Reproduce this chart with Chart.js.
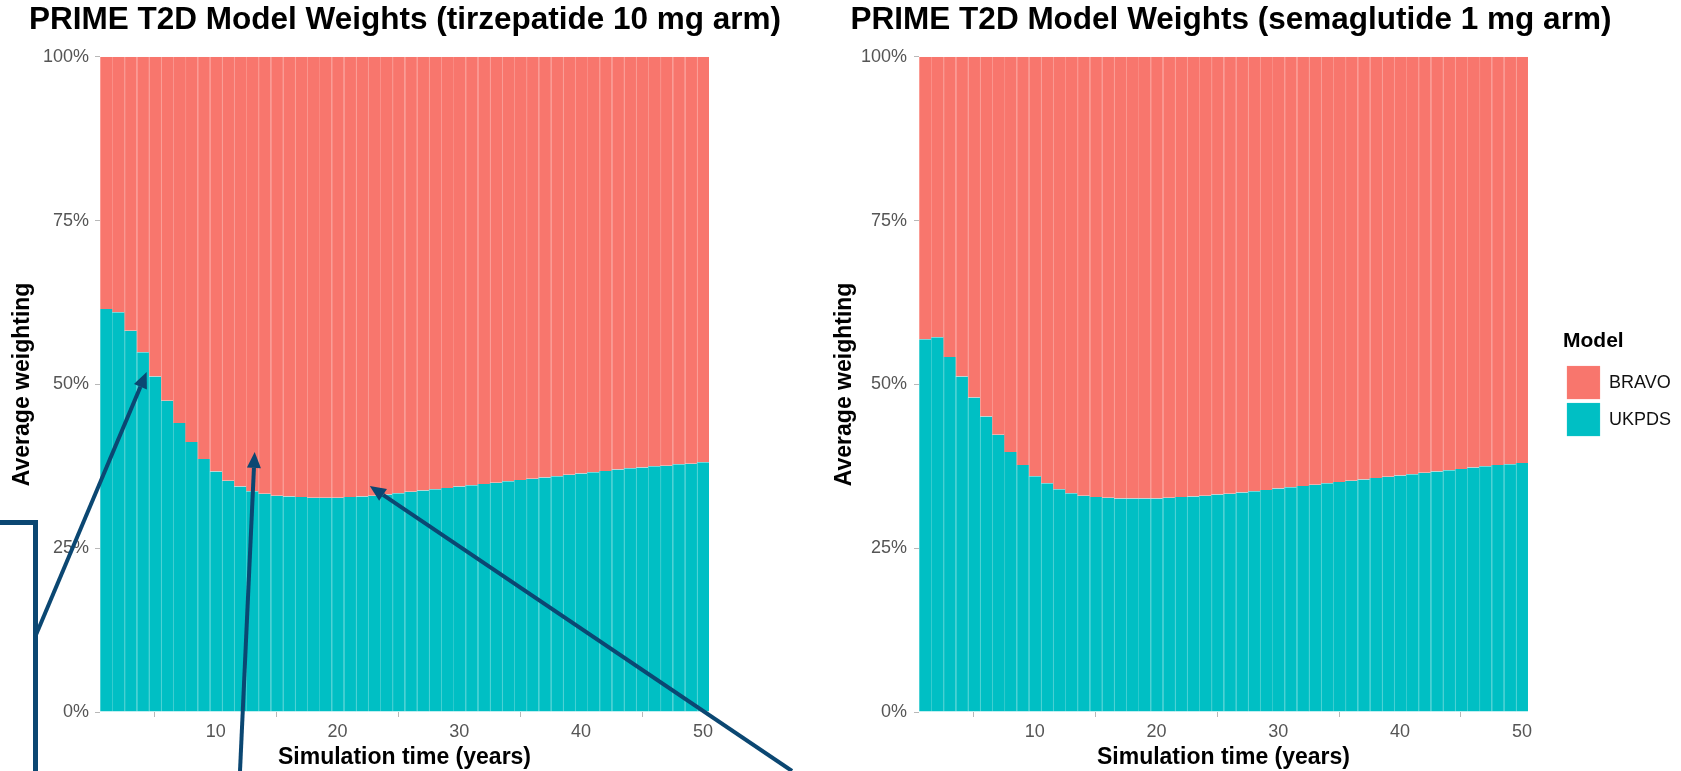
<!DOCTYPE html>
<html>
<head>
<meta charset="utf-8">
<script src="https://cdn.jsdelivr.net/npm/chart.js@4.4.1/dist/chart.umd.min.js"></script>
<style>
  html, body { margin: 0; padding: 0; background: #fff; }
  #wrap { position: relative; width: 1681px; height: 771px; overflow: hidden; }
  canvas { position: absolute; top: 0; }
  #left { left: 0; }
  #right { left: 781px; }
</style>
</head>
<body>
<div id="wrap">
  <canvas id="left" width="810" height="771"></canvas>
  <canvas id="right" width="900" height="771"></canvas>
</div>
<script>
// simulation years (one bar each)
const years = [1, 2, 3, 4, 5, 6, 7, 8, 9, 10, 11, 12, 13, 14, 15, 16, 17, 18, 19, 20,
  21, 22, 23, 24, 25, 26, 27, 28, 29, 30, 31, 32, 33, 34, 35, 36, 37, 38, 39, 40,
  41, 42, 43, 44, 45, 46, 47, 48, 49, 50];
const xTicks = [10, 20, 30, 40, 50];
const yTicks = [0, 25, 50, 75, 100];

// tirzepatide 10 mg arm, % weighting
const tirzUkpds = [61.5, 61.0, 58.2, 54.9, 51.2, 47.5, 44.1, 41.2, 38.6, 36.7,
  35.3, 34.4, 33.7, 33.3, 33.0, 32.9, 32.8, 32.7, 32.7, 32.7,
  32.8, 32.9, 33.0, 33.2, 33.4, 33.6, 33.8, 34.0, 34.2, 34.4,
  34.6, 34.8, 35.0, 35.2, 35.4, 35.6, 35.8, 36.0, 36.2, 36.4,
  36.6, 36.8, 37.0, 37.2, 37.3, 37.5, 37.6, 37.8, 37.9, 38.1];
const tirzBravo = [38.5, 39.0, 41.8, 45.1, 48.8, 52.5, 55.9, 58.8, 61.4, 63.3,
  64.7, 65.6, 66.3, 66.7, 67.0, 67.1, 67.2, 67.3, 67.3, 67.3,
  67.2, 67.1, 67.0, 66.8, 66.6, 66.4, 66.2, 66.0, 65.8, 65.6,
  65.4, 65.2, 65.0, 64.8, 64.6, 64.4, 64.2, 64.0, 63.8, 63.6,
  63.4, 63.2, 63.0, 62.8, 62.7, 62.5, 62.4, 62.2, 62.1, 61.9];

// semaglutide 1 mg arm, % weighting
const semaUkpds = [56.9, 57.2, 54.2, 51.2, 48.0, 45.1, 42.3, 39.7, 37.7, 36.0,
  34.9, 34.0, 33.4, 33.0, 32.8, 32.7, 32.6, 32.6, 32.6, 32.6,
  32.7, 32.8, 32.9, 33.0, 33.2, 33.3, 33.5, 33.7, 33.9, 34.1,
  34.3, 34.5, 34.7, 34.9, 35.1, 35.3, 35.5, 35.7, 35.9, 36.1,
  36.3, 36.5, 36.7, 36.9, 37.1, 37.3, 37.5, 37.7, 37.8, 38.0];
const semaBravo = [43.1, 42.8, 45.8, 48.8, 52.0, 54.9, 57.7, 60.3, 62.3, 64.0,
  65.1, 66.0, 66.6, 67.0, 67.2, 67.3, 67.4, 67.4, 67.4, 67.4,
  67.3, 67.2, 67.1, 67.0, 66.8, 66.7, 66.5, 66.3, 66.1, 65.9,
  65.7, 65.5, 65.3, 65.1, 64.9, 64.7, 64.5, 64.3, 64.1, 63.9,
  63.7, 63.5, 63.3, 63.1, 62.9, 62.7, 62.5, 62.3, 62.2, 62.0];

const RED = '#F8766D';
const TEAL = '#00BFC4';
const NAVY = '#0b4772';

// call-out arrows on the left panel: tip in data units (year, %), tail in canvas px
const arrowTips = [[4.33, 51.9], [13.2, 39.7], [22.65, 34.5]];
const arrowTails = [[35.5, 636], [240, 771], [792, 771]];
const bracket = [[0, 522.5], [35.5, 522.5], [35.5, 771]];

Chart.defaults.font.family = "'Liberation Sans', Arial, Helvetica, sans-serif";

const arrowPlugin = {
  id: 'arrows',
  afterDraw(chart) {
    const { ctx, scales } = chart;
    ctx.save();
    ctx.strokeStyle = NAVY;
    ctx.fillStyle = NAVY;
    ctx.lineWidth = 5;
    ctx.lineJoin = 'miter';
    ctx.beginPath();
    bracket.forEach(([px, py], i) => i ? ctx.lineTo(px, py) : ctx.moveTo(px, py));
    ctx.stroke();

    ctx.lineWidth = 4;
    arrowTips.forEach(([yr, pct], i) => {
      const tx = scales.x.getPixelForValue(yr);
      const ty = scales.y.getPixelForValue(pct);
      const [sx, sy] = arrowTails[i];
      const a = Math.atan2(ty - sy, tx - sx);
      const bx = tx - 16 * Math.cos(a), by = ty - 16 * Math.sin(a);
      ctx.beginPath();
      ctx.moveTo(sx, sy);
      ctx.lineTo(bx, by);
      ctx.stroke();
      ctx.beginPath();
      ctx.moveTo(tx, ty);
      ctx.lineTo(bx + 7 * Math.sin(a), by - 7 * Math.cos(a));
      ctx.lineTo(bx - 7 * Math.sin(a), by + 7 * Math.cos(a));
      ctx.closePath();
      ctx.fill();
    });
    ctx.restore();
  }
};

function barSet(label, values, color, stripe) {
  return {
    label,
    data: years.map((x, i) => ({ x, y: values[i] })),
    backgroundColor: color,
    borderColor: stripe,
    borderWidth: { left: 1, top: 0, right: 0, bottom: 0 },
    borderSkipped: false,
    // a hair over 1 so neighbouring bars overlap and leave no seams
    barPercentage: 1.04,
    categoryPercentage: 1
  };
}

function weightsChart(id, titleText, ukpds, bravo, o) {
  const scales = {
    x: {
      type: 'linear',
      stacked: true,
      min: 0.5,
      max: 50.5,
      offset: false,
      afterBuildTicks: s => { s.ticks = xTicks.map(v => ({ value: v })); },
      afterFit: s => { s.height = 59; },
      grid: { drawOnChartArea: false, tickLength: 5, tickColor: '#b8b8b8' },
      border: { display: false },
      ticks: { color: '#555', font: { size: 18 }, padding: 4, maxRotation: 0 },
      title: {
        display: true, text: 'Simulation time (years)', color: '#000',
        font: { size: 23, weight: 'bold' }, padding: { top: 0, bottom: 0 }
      }
    },
    y: {
      stacked: true,
      min: 0,
      max: 100,
      afterBuildTicks: s => { s.ticks = yTicks.map(v => ({ value: v })); },
      afterFit: s => { s.width = o.yWidth; },
      grid: { drawOnChartArea: false, tickLength: 5, tickColor: '#b8b8b8' },
      border: { display: false },
      ticks: { color: '#555', font: { size: 18 }, padding: o.tickPad, callback: v => v + '%' },
      title: {
        display: true, text: 'Average weighting', color: '#000',
        font: { size: 23, weight: 'bold' }, padding: { top: o.titlePad, bottom: 0 }
      }
    },
    // empty spacer on the right of the plot
    gap: {
      type: 'linear', position: 'right', display: true,
      grid: { display: false }, border: { display: false }, ticks: { display: false },
      afterFit: s => { s.width = o.gap; }
    }
  };

  return new Chart(document.getElementById(id), {
    type: 'bar',
    data: {
      datasets: [
        barSet('UKPDS', ukpds, TEAL, '#2ecacd'),
        barSet('BRAVO', bravo, RED, '#fa8a82')
      ]
    },
    options: {
      responsive: false,
      animation: false,
      events: [],
      scales,
      plugins: {
        title: {
          display: true, text: titleText, fullSize: true, color: '#000',
          font: { size: 31.5, weight: 'bold' }, padding: { top: 1, bottom: 18 }
        },
        legend: o.legend ? {
          display: true,
          position: 'right',
          reverse: true,
          title: {
            display: true, text: 'Model', color: '#000', position: 'start',
            font: { size: 21, weight: 'bold' }, padding: { top: 0, bottom: 6 }
          },
          labels: { boxWidth: 33, boxHeight: 33, padding: 4, color: '#111', font: { size: 18 } }
        } : { display: false },
        tooltip: { enabled: false }
      }
    },
    plugins: o.plugins || []
  });
}

weightsChart('left', 'PRIME T2D Model Weights (tirzepatide 10 mg arm)', tirzUkpds, tirzBravo,
  { yWidth: 100, tickPad: 6, titlePad: 9, gap: 101, plugins: [arrowPlugin] });

weightsChart('right', 'PRIME T2D Model Weights (semaglutide 1 mg arm)', semaUkpds, semaBravo,
  { yWidth: 138, tickPad: 7, titlePad: 50, gap: 35, legend: true });
</script>
</body>
</html>
